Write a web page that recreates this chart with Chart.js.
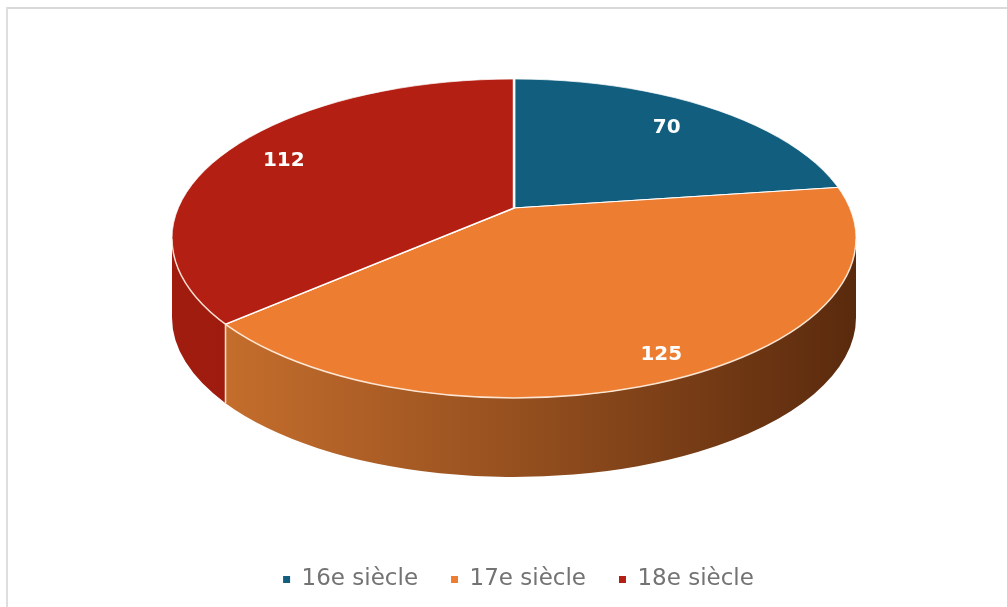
<!DOCTYPE html>
<html><head><meta charset="utf-8">
<script src="https://cdn.jsdelivr.net/npm/chart.js@4.4.1/dist/chart.umd.min.js"></script>
<style>
html,body{margin:0;padding:0;background:#fff;width:1007px;height:607px;overflow:hidden}
#hline{position:absolute;left:6px;top:7px;width:1001px;height:2px;background:#d9d9d9}
#vline{position:absolute;left:6px;top:7px;width:2px;height:600px;background:#dedede}
#wrap{position:absolute;left:0;top:0;width:1007px;height:607px}
</style></head><body>
<div id="hline"></div><div id="vline"></div>
<div id="wrap"><canvas id="c" width="1007" height="607"></canvas></div>
<script>
const categories = ['16e siècle', '17e siècle', '18e siècle'];
const values = [70, 125, 112];
const topColors = ['#115e7e', '#ed7d31', '#b31f12'];
const sideLight = ['#0c4860', '#cd732f', '#a01c0f'];
const sideMid = ['#0a3e52', '#96501f', '#93190c'];
const sideDark = ['#083444', '#5a2a0d', '#841509'];

// geometry of the tilted pie (layout only)
const GEO = {cx: 514, cy: 238.5, rx: 342, ry: 159.5, apexY: 208, depth: 79};

// perspective mapping of the unit disc onto the top ellipse
const T = GEO.cy - GEO.ry, B = GEO.cy + GEO.ry, b0 = GEO.apexY;
const pc = (2 * b0 - T - B) / (B - T);
const pa = B * (1 + pc) - b0;
const pA = pa - pc * b0;
const ps = GEO.rx * pA / (GEO.ry * Math.sqrt(1 - pc * pc));
function proj(u, v) {
  const w = 1 + pc * v;
  return {x: GEO.cx + ps * u / w, y: (pa * v + b0) / w};
}
function phiOf(theta) {
  const p = proj(Math.cos(theta), Math.sin(theta));
  return Math.atan2((p.y - GEO.cy) / GEO.ry, (p.x - GEO.cx) / GEO.rx);
}
const TAU = Math.PI * 2;

const pie3d = {
  id: 'pie3d',
  beforeDatasetsDraw(chart) {
    const ctx = chart.ctx;
    const meta = chart.getDatasetMeta(0);
    const {cx, cy, rx, ry, depth} = GEO;
    // side walls
    meta.data.forEach((arc, i) => {
      let fs = phiOf(arc.startAngle);
      let fe = phiOf(arc.endAngle);
      let span = ((fe - fs) % TAU + TAU) % TAU;
      if (span === 0 && arc.endAngle - arc.startAngle > 0.01) span = TAU;
      fe = fs + span;
      const g = ctx.createLinearGradient(cx - rx, 0, cx + rx, 0);
      g.addColorStop(0, sideLight[i]);
      g.addColorStop(0.5, sideMid[i]);
      g.addColorStop(1, sideDark[i]);
      for (let k = -1; k <= 2; k++) {
        const lo = Math.max(fs, k * TAU), hi = Math.min(fe, k * TAU + Math.PI);
        if (hi > lo) {
          ctx.save();
          ctx.beginPath();
          ctx.ellipse(cx, cy, rx, ry, 0, lo - k * TAU, hi - k * TAU, false);
          ctx.ellipse(cx, cy + depth, rx, ry, 0, hi - k * TAU, lo - k * TAU, true);
          ctx.closePath();
          ctx.fillStyle = g;
          ctx.fill();
          ctx.restore();
        }
      }
    });
    // boundary lines on the side
    meta.data.forEach((arc) => {
      let f = ((phiOf(arc.startAngle) % TAU) + TAU) % TAU;
      if (f > 0.02 && f < Math.PI - 0.02) {
        const x = cx + rx * Math.cos(f), y = cy + ry * Math.sin(f);
        ctx.save();
        ctx.strokeStyle = 'rgba(255,225,200,0.95)';
        ctx.lineWidth = 1.6;
        ctx.beginPath();
        ctx.moveTo(x, y);
        ctx.lineTo(x, y + depth);
        ctx.stroke();
        ctx.restore();
      }
    });
    // top face: clip to the ellipse and view the library's arcs through the perspective rays
    const a0 = meta.data[0];
    const R = a0.outerRadius;
    const kk = 1.6;
    ctx.save();
    ctx.beginPath();
    ctx.ellipse(cx, cy, rx, ry, 0, 0, TAU);
    ctx.clip();
    ctx.translate(cx, b0);
    ctx.scale(kk * ps / R, kk * pA / R);
    ctx.translate(-a0.x, -a0.y);
  },
  afterDatasetsDraw(chart) {
    const ctx = chart.ctx;
    ctx.restore();
    const {cx, cy, rx, ry} = GEO;
    // rim highlight
    ctx.save();
    ctx.strokeStyle = 'rgba(255,240,225,0.9)';
    ctx.lineWidth = 1.5;
    ctx.beginPath();
    ctx.ellipse(cx, cy, rx, ry, 0, 0, Math.PI);
    ctx.stroke();
    ctx.strokeStyle = 'rgba(255,255,255,0.7)';
    ctx.lineWidth = 1;
    ctx.beginPath();
    ctx.ellipse(cx, cy, rx, ry, 0, Math.PI, TAU);
    ctx.stroke();
    ctx.restore();
    // value labels
    const meta = chart.getDatasetMeta(0);
    const fac = [0.77, 0.89, 0.8];
    ctx.save();
    ctx.fillStyle = '#ffffff';
    ctx.font = 'bold 20px "DejaVu Sans"';
    ctx.textAlign = 'center';
    ctx.textBaseline = 'middle';
    meta.data.forEach((arc, i) => {
      const m = (arc.startAngle + arc.endAngle) / 2;
      const f = fac[i];
      const p = proj(f * Math.cos(m), f * Math.sin(m));
      ctx.fillText(String(values[i]), p.x, p.y);
    });
    ctx.restore();
  }
};

new Chart(document.getElementById('c'), {
  type: 'pie',
  data: {
    labels: categories,
    datasets: [{data: values, backgroundColor: topColors, borderColor: '#ffffff', borderWidth: 1.2, clip: false}]
  },
  options: {
    responsive: false,
    animation: false,
    events: [],
    layout: {padding: {top: 10, bottom: 6, left: 30, right: 0}},
    plugins: {
      tooltip: {enabled: false},
      legend: {
        position: 'bottom',
        labels: {
          boxWidth: 7, boxHeight: 7, padding: 33, color: '#737373',
          font: {family: 'DejaVu Sans', size: 23},
          generateLabels() {
            return categories.map((t, i) => ({text: t, fillStyle: topColors[i], strokeStyle: topColors[i], lineWidth: 0, hidden: false, index: i, fontColor: '#737373'}));
          }
        }
      }
    }
  },
  plugins: [pie3d]
});
</script>
</body></html>
